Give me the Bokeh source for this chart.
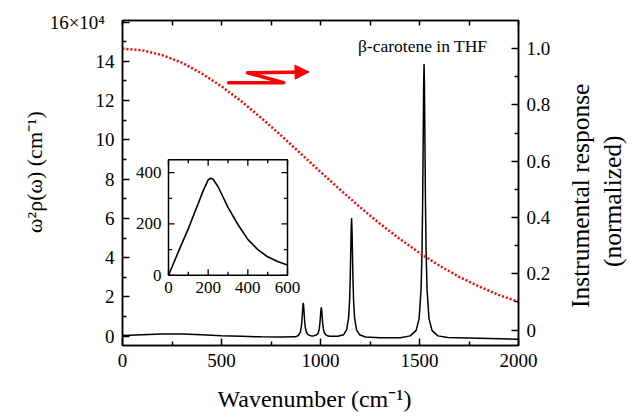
from bokeh.plotting import figure
from bokeh.layouts import row
from bokeh.models import Range1d, LinearAxis, FixedTicker, Label, Arrow, NormalHead
from bokeh.core.properties import value
from bokeh.embed import file_html
from bokeh.resources import INLINE

# ---------------- data ----------------
# spectrum, values in units of 1e4 (cm^-1)
spec_x = [0, 100, 200, 300, 400, 500, 600, 700, 800, 873, 888, 898, 903, 906, 909, 911, 913, 915, 917,
          920, 923, 928, 938, 953, 964, 979, 989, 994, 997, 1000, 1002, 1004, 1006, 1008, 1011, 1014,
          1019, 1029, 1044, 1087, 1117, 1132, 1142, 1147, 1150, 1153, 1155, 1157, 1159, 1161, 1164,
          1167, 1172, 1182, 1197, 1227, 1300, 1403, 1453, 1483, 1498, 1508, 1513, 1516, 1519, 1521,
          1523, 1525, 1527, 1530, 1533, 1538, 1548, 1563, 1593, 1643, 1800, 2000]
spec_y = [0.04, 0.08, 0.12, 0.12, 0.08, 0.03, 0.0, -0.03, -0.04, -0.03, 0.04, 0.2, 0.47, 0.77, 1.22, 1.51,
          1.7, 1.51, 1.22, 0.78, 0.47, 0.23, 0.07, 0.02, 0.02, 0.06, 0.17, 0.4, 0.66, 1.05, 1.31, 1.47,
          1.31, 1.05, 0.66, 0.4, 0.18, 0.05, 0.0, 0.0, 0.08, 0.33, 0.95, 1.85, 2.9, 4.45, 5.45, 6.02,
          5.45, 4.45, 2.9, 1.85, 0.95, 0.33, 0.08, -0.04, -0.08, -0.07, 0.02, 0.3, 0.9, 2.4, 4.5, 6.9,
          10.4, 12.8, 13.87, 12.8, 10.4, 6.9, 4.5, 2.4, 0.9, 0.3, 0.02, -0.06, -0.1, -0.15]

# instrumental response (normalized)
resp_x = [0, 100, 200, 300, 400, 500, 600, 700, 800, 900, 1000, 1100, 1200, 1300, 1400, 1500,
          1600, 1700, 1800, 1900, 2000]
resp_y = [1.0, 0.994, 0.977, 0.950, 0.912, 0.866, 0.813, 0.754, 0.692, 0.627, 0.562, 0.498, 0.436,
          0.378, 0.324, 0.274, 0.229, 0.189, 0.155, 0.125, 0.100]

# inset curve
inset_x = [0, 50, 100, 150, 175, 200, 212, 225, 250, 275, 300, 350, 400, 450, 500, 550, 600]
inset_y = [0, 92, 182, 280, 330, 372, 378, 374, 345, 305, 265, 198, 140, 100, 72, 54, 40]

# ticks
x_ticks = [0, 500, 1000, 1500, 2000]
x_minor = [250, 750, 1250, 1750]
y_ticks = [0, 2, 4, 6, 8, 10, 12, 14, 16]
y_minor = [1, 3, 5, 7, 9, 11, 13, 15]
r_ticks = [0, 0.2, 0.4, 0.6, 0.8, 1.0]
r_labels = ["0", "0.2", "0.4", "0.6", "0.8", "1.0"]
r_minor = [0.1, 0.3, 0.5, 0.7, 0.9]
inset_xticks = [0, 200, 400, 600]
inset_xminor = [100, 300, 500]
inset_yticks = [0, 200, 400]
inset_yminor = [100, 300]
inset_xlim = (0, 600)
inset_ylim = (0, 450)

# red squiggle arrow (annotation, data coords)
arrow_x = [536, 814, 632]
arrow_y = [12.91, 12.91, 13.42]
arrow_tip = (942, 13.46)

FONT = "Liberation Serif"

# ---------------- layout ----------------
W1, W2, H = 560, 75, 419
BL, BR, BT, BB = 122, 42, 20, 74
FW, FH = W1 - BL - BR, H - BT - BB

p1 = figure(width=W1, height=H, output_backend="svg", toolbar_location=None,
            x_range=Range1d(0, 2000), y_range=Range1d(-0.47, 16.08),
            min_border_left=BL, min_border_right=BR, min_border_top=BT, min_border_bottom=BB,
            x_axis_label="Wavenumber (cm⁻¹)\u2002", y_axis_label="\u2003ω²ρ(ω) (cm⁻¹)")
p1.grid.visible = False
p1.outline_line_color = "black"
p1.outline_line_width = 1.5
p1.background_fill_color = "white"
p1.border_fill_color = "white"

p1.extra_y_ranges["resp"] = Range1d(-0.055, 1.10)

# inset mapped into the main frame through extra ranges
ins_l, ins_r, ins_t, ins_b = 46, 165, 139.3, 254.8   # pixel box within the frame
sx = (inset_xlim[1] - inset_xlim[0]) / (ins_r - ins_l)
sy = (inset_ylim[1] - inset_ylim[0]) / (ins_b - ins_t)
p1.extra_x_ranges["inx"] = Range1d(inset_xlim[0] - ins_l * sx, inset_xlim[1] + (FW - ins_r) * sx)
p1.extra_y_ranges["iny"] = Range1d(inset_ylim[0] - (FH - ins_b) * sy, inset_ylim[1] + ins_t * sy)


def style_axis(ax, ticks, minor, fs="19px"):
    ax.ticker = FixedTicker(ticks=ticks, minor_ticks=minor)
    ax.major_tick_in = 7
    ax.major_tick_out = 0
    ax.minor_tick_in = 4
    ax.minor_tick_out = 0
    ax.axis_line_color = "black"
    ax.axis_line_width = 1.5
    ax.major_tick_line_color = "black"
    ax.minor_tick_line_color = "black"
    ax.major_tick_line_width = 1.5
    ax.minor_tick_line_width = 1.5
    ax.major_label_text_font = FONT
    ax.major_label_text_font_size = fs
    ax.major_label_text_color = "black"
    ax.major_label_standoff = 8
    ax.axis_label_text_font = FONT
    ax.axis_label_text_font_size = "24px"
    ax.axis_label_text_font_style = "normal"
    ax.axis_label_text_color = "black"


style_axis(p1.xaxis[0], x_ticks, x_minor)
p1.xaxis[0].axis_label_standoff = 16
style_axis(p1.yaxis[0], y_ticks, y_minor)
p1.yaxis[0].major_label_overrides = {16: "16×10⁴\u2002"}
p1.yaxis[0].axis_label_standoff = 0
p1.yaxis[0].axis_label_text_font_size = "22px"

top = LinearAxis()
style_axis(top, [], x_ticks + x_minor)
top.minor_tick_in = 5
top.major_label_standoff = 0
p1.add_layout(top, "above")

right = LinearAxis(y_range_name="resp")
style_axis(right, r_ticks, r_minor)
right.major_label_overrides = dict(zip(r_ticks, r_labels))
p1.add_layout(right, "right")

# main spectrum and response
p1.line(spec_x, spec_y, line_color="black", line_width=1.5)
p1.line(resp_x, resp_y, y_range_name="resp", line_color="#ff0000", line_width=2.5, line_dash="2 2")

# squiggle arrow
p1.line(arrow_x, arrow_y, line_color="#ff0000", line_width=3.5, line_join="round", line_cap="round")
p1.add_layout(Arrow(x_start=arrow_x[-1], y_start=arrow_y[-1], x_end=arrow_tip[0], y_end=arrow_tip[1],
                    line_color="#ff0000", line_width=3.5,
                    end=NormalHead(size=14, fill_color="#ff0000", line_color="#ff0000", line_width=1)))

# sample label
p1.add_layout(Label(x=1516, y=14.79, text="β-carotene in THF", text_align="center", text_baseline="middle",
                    text_font=FONT, text_font_size="17.5px", text_color="black"))

# ---------------- inset ----------------
IX, IY = "inx", "iny"
x0, x1 = inset_xlim
y0, y1 = inset_ylim
p1.quad(left=[x0], right=[x1], bottom=[y0], top=[y1], x_range_name=IX, y_range_name=IY,
        fill_color="white", line_color="black", line_width=1.5)
p1.line(inset_x, inset_y, x_range_name=IX, y_range_name=IY, line_color="black", line_width=1.6)

maj, mnr = 6, 3.5
xs0, xs1, ys0, ys1 = [], [], [], []
for t, L in [(t, maj) for t in inset_xticks] + [(t, mnr) for t in inset_xminor]:
    xs0 += [t, t]; xs1 += [t, t]
    ys0 += [y0, y1]; ys1 += [y0 + L * sy, y1 - L * sy]
for t, L in [(t, maj) for t in inset_yticks] + [(t, mnr) for t in inset_yminor]:
    ys0 += [t, t]; ys1 += [t, t]
    xs0 += [x0, x1]; xs1 += [x0 + L * sx, x1 - L * sx]
p1.segment(x0=xs0, y0=ys0, x1=xs1, y1=ys1, x_range_name=IX, y_range_name=IY,
           line_color="black", line_width=1.3)

p1.text(x=inset_xticks, y=[y0 - 12.5 * sy] * len(inset_xticks), text=[str(t) for t in inset_xticks],
        x_range_name=IX, y_range_name=IY, text_align="center", text_baseline="middle",
        text_font=value(FONT), text_font_size=value("17px"), text_color="black")
p1.text(x=[x0 - 7 * sx] * len(inset_yticks), y=inset_yticks, text=[str(t) for t in inset_yticks],
        x_range_name=IX, y_range_name=IY, text_align="right", text_baseline="middle",
        text_font=value(FONT), text_font_size=value("17px"), text_color="black")

# ---------------- right-axis title panel ----------------
p2 = figure(width=W2, height=H, output_backend="svg", toolbar_location=None,
            x_range=Range1d(0, W2), y_range=Range1d(0, H), min_border=0,
            x_axis_type=None, y_axis_type=None)
p2.grid.visible = False
p2.outline_line_color = None
p2.background_fill_color = "white"
p2.border_fill_color = "white"
p2.add_layout(Label(x=20, y=H - 226, text="Instrumental response", angle=90, angle_units="deg",
                    text_align="center", text_baseline="middle",
                    text_font=FONT, text_font_size="25.5px", text_color="black"))
p2.add_layout(Label(x=52, y=H - 233, text="(normalized)", angle=90, angle_units="deg",
                    text_align="center", text_baseline="middle",
                    text_font=FONT, text_font_size="25.5px", text_color="black"))

p = row(p1, p2)
open("out.html", "w").write(file_html(p, INLINE))
